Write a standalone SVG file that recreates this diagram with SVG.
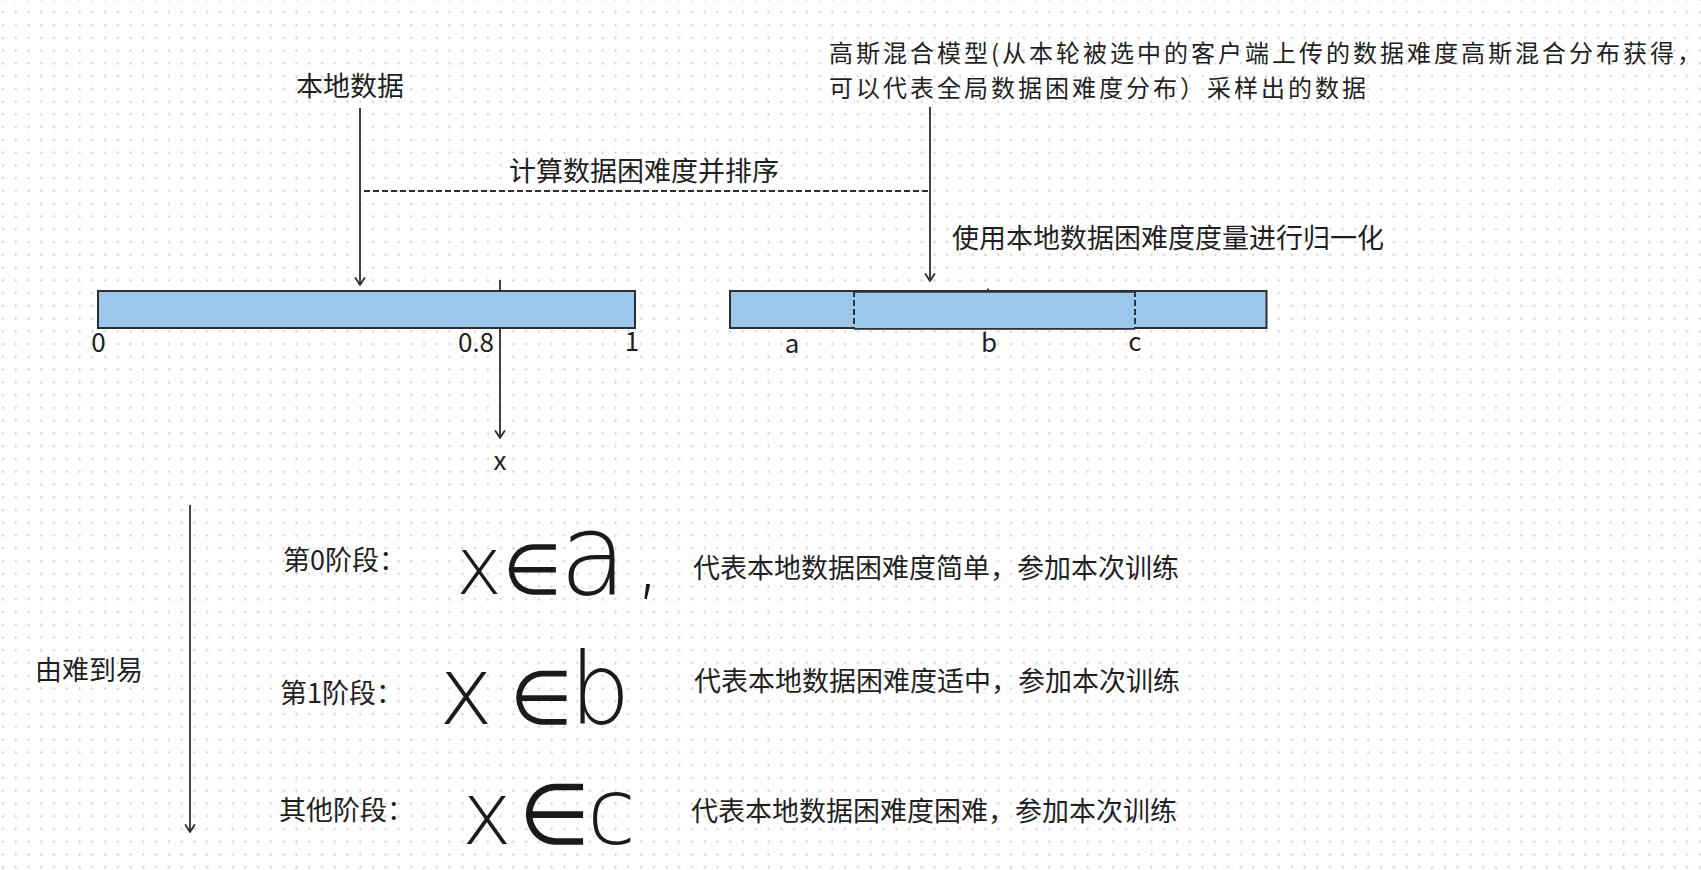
<svg xmlns="http://www.w3.org/2000/svg" width="1701" height="870" viewBox="0 0 1701 870">
<defs>
<pattern id="dots" patternUnits="userSpaceOnUse" x="-3.38" y="5.92" width="12.76" height="12.76">
<circle cx="6.38" cy="6.38" r="1.15" fill="#cfcfcf"/>
</pattern>
<marker id="arr" markerUnits="userSpaceOnUse" viewBox="-9 -6 12 12" refX="0" refY="0" markerWidth="12" markerHeight="12" orient="auto">
<path d="M -7 -4.5 L 0 0 L -7 4.5" fill="none" stroke="#2e2e2e" stroke-width="1.8" stroke-linecap="round" stroke-linejoin="round"/>
</marker>
<style>
.t { font-family: "Noto Sans CJK SC", "Noto Sans", sans-serif; font-size: 27px; fill: #1f1f1f; }
.t2 { font-family: "Noto Sans CJK SC", "Noto Sans", sans-serif; font-size: 24px; letter-spacing: 3px; fill: #1f1f1f; }
.n { font-family: "Noto Sans CJK SC", "Noto Sans", sans-serif; font-size: 26px; fill: #1f1f1f; text-anchor: middle; }
.bar { fill: #9bc9ee; stroke: #2e2e2e; stroke-width: 2; }
.fillonly { fill: #9bc9ee; stroke: none; }
.ln { stroke: #2e2e2e; stroke-width: 1.8; fill: none; }
.dash { stroke: #2e2e2e; stroke-width: 1.9; fill: none; stroke-dasharray: 6 3; }
.hand { font-family: "DejaVu Sans", sans-serif; font-weight: 200; fill: #1a1a1a; }
</style>
</defs>
<rect width="1701" height="870" fill="#ffffff"/>
<rect width="1701" height="870" fill="url(#dots)"/>

<g id="connectors">
<line class="ln" x1="360" y1="108" x2="360" y2="285" marker-end="url(#arr)"/>
<line class="ln" x1="930" y1="107" x2="930" y2="281" marker-end="url(#arr)"/>
<line class="dash" x1="364" y1="191" x2="929" y2="191"/>
<line class="ln" x1="500" y1="280" x2="500" y2="438" marker-end="url(#arr)"/>
<line class="ln" x1="190" y1="505" x2="190" y2="832" marker-end="url(#arr)"/>
</g>

<g id="label-local-data">
<text class="t" x="296" y="96">本地数据</text>
</g>
<g id="label-sort">
<text class="t" x="509" y="181">计算数据困难度并排序</text>
</g>
<g id="label-gmm">
<text class="t2" x="829" y="62">高斯混合模型(从本轮被选中的客户端上传的数据难度高斯混合分布获得，</text>
<text class="t2" x="829" y="97">可以代表全局数据困难度分布）采样出的数据</text>
</g>
<g id="label-normalize">
<text class="t" x="952" y="248">使用本地数据困难度度量进行归一化</text>
</g>

<g id="local-bar">
<rect class="bar" x="98" y="291" width="537" height="37"/>
<text class="n" x="98.5" y="352">0</text>
<text class="n" x="476" y="352">0.8</text>
<text class="n" x="632" y="351">1</text>
</g>
<g id="label-x">
<text class="n" x="500" y="470">x</text>
</g>

<g id="global-bar">
<rect class="bar" x="730" y="291" width="536.5" height="37"/>
<rect class="fillonly" x="855" y="292.5" width="279" height="35.5"/>
<line class="ln" x1="854" y1="291.8" x2="1135" y2="291.8" stroke-width="3"/>
<line class="ln" x1="854" y1="328.8" x2="1135" y2="328.8"/>
<line class="dash" x1="854" y1="291" x2="854" y2="329" stroke-dasharray="4 2.5" stroke-width="2"/>
<line class="dash" x1="1135" y1="291" x2="1135" y2="329" stroke-dasharray="4 2.5" stroke-width="2"/>
<line class="ln" x1="988" y1="288.5" x2="988" y2="291" stroke-width="1.5"/>
<text class="n" x="792" y="353">a</text>
<text class="n" x="989" y="352">b</text>
<text class="n" x="1135" y="351">c</text>
</g>

<g id="label-order">
<text class="t" x="35" y="680">由难到易</text>
</g>

<g id="stage0">
<text class="t" x="283" y="570">第0阶段：</text>
<text class="hand" transform="translate(456,594) scale(1.25,1.3)"><tspan font-size="62">x</tspan><tspan font-size="54" dx="1">∈</tspan><tspan font-size="88" dx="-2">a</tspan><tspan font-size="64" dx="6.8" dy="-4">,</tspan></text>
<text class="t" x="693" y="578">代表本地数据困难度简单，参加本次训练</text>
</g>

<g id="stage1">
<text class="t" x="280" y="703">第1阶段：</text>
<text class="hand" transform="translate(439,724) scale(1.2,1.25)"><tspan font-size="76">x</tspan><tspan font-size="60" dx="14">∈</tspan><tspan font-size="80" dx="-2.5">b</tspan></text>
<text class="t" x="694" y="691">代表本地数据困难度适中，参加本次训练</text>
</g>

<g id="stage2">
<text class="t" x="279" y="820">其他阶段：</text>
<text class="hand" transform="translate(462,844) scale(1.2,1.25)"><tspan font-size="70">x</tspan><tspan font-size="68" dx="6">∈</tspan><tspan font-size="74" dx="-2">c</tspan></text>
<text class="t" x="691" y="821">代表本地数据困难度困难，参加本次训练</text>
</g>
</svg>
